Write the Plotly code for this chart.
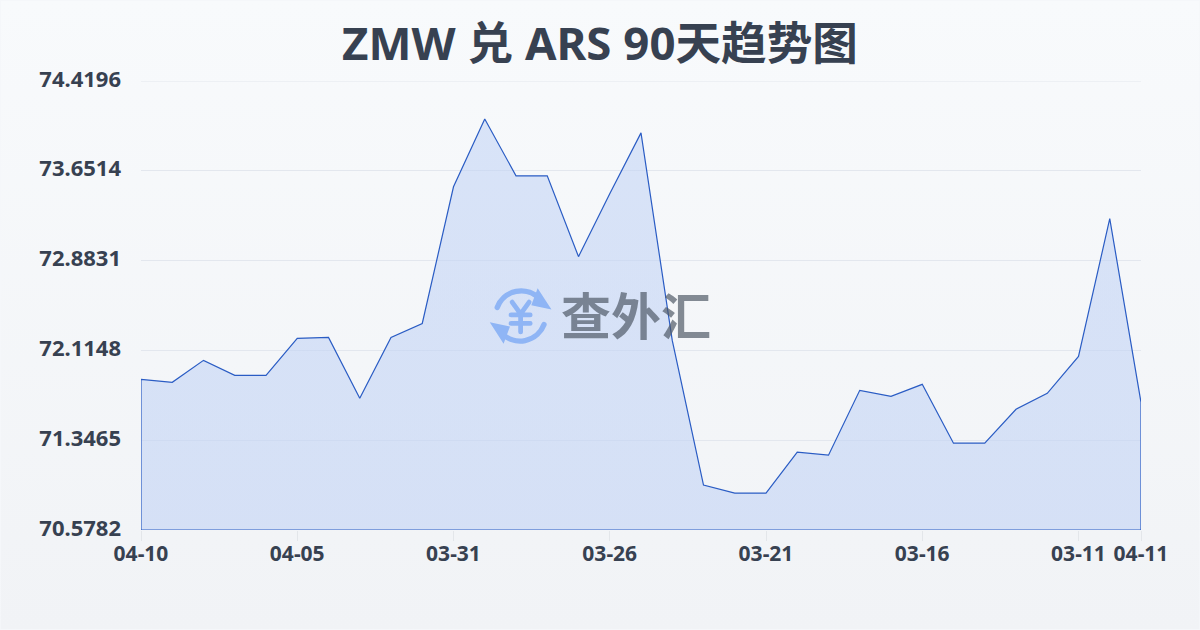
import base64
import plotly.graph_objects as go

title = "ZMW 兑 ARS 90天趋势图"
watermark = "查外汇"
x_index = list(range(33))
rates = [71.8672, 71.8416, 72.0294, 71.9013, 71.9013, 72.2172, 72.2257, 71.7050, 72.2257, 72.3452,
         73.5147, 74.0952, 73.6086, 73.6086, 72.9172, 73.4550, 73.9757, 72.2001, 70.9623, 70.8940,
         70.8940, 71.2440, 71.2184, 71.7733, 71.7221, 71.8245, 71.3209, 71.3209, 71.6111, 71.7477,
         72.0635, 73.2416, 71.6709]
y_ticks = [70.5782, 71.3465, 72.1148, 72.8831, 73.6514, 74.4196]
y_labels = ["70.5782", "71.3465", "72.1148", "72.8831", "73.6514", "74.4196"]
x_ticks = [0, 5, 10, 15, 20, 25, 30, 32]
x_labels = ["04-10", "04-05", "03-31", "03-26", "03-21", "03-16", "03-11", "04-11"]

bg_svg = ('<svg xmlns="http://www.w3.org/2000/svg" width="1200" height="630" preserveAspectRatio="none">'
          '<defs><linearGradient id="g" x1="0" y1="0" x2="0" y2="1"><stop offset="0" stop-color="#f8fafc"/>'
          '<stop offset="1" stop-color="#f1f3f6"/></linearGradient></defs>'
          '<rect width="1200" height="630" fill="url(#g)"/></svg>')
icon_svg = ('<svg xmlns="http://www.w3.org/2000/svg" viewBox="0 0 60 60" width="60" height="60">'
            '<g fill="none" stroke="#8fb5f5" stroke-width="5" stroke-linecap="round">'
            '<path d="M8 22 A24 24 0 0 1 48 14"/><path d="M52 38 A24 24 0 0 1 12 46"/>'
            '<path d="M22 17 L30 28 L38 17 M30 28 V45 M21 29 H39 M21 37 H39" stroke-width="4.5"/></g>'
            '<path d="M46 4 L59 24 L40 20 Z M14 56 L1 36 L20 40 Z" fill="#8fb5f5"/></svg>')


def uri(svg):
    return "data:image/svg+xml;base64," + base64.b64encode(svg.encode()).decode()


base = y_ticks[0]
fig = go.Figure(go.Scatter(
    x=[x_index[0]] + x_index + [x_index[-1], x_index[0]],
    y=[base] + rates + [base, base],
    mode="lines",
    line=dict(color="#2a5cc4", width=1.2),
    fill="toself",
    fillgradient=dict(type="vertical",
                      colorscale=[[0, "rgba(192,210,245,0.58)"], [1, "rgba(192,210,245,0.55)"]]),
    cliponaxis=False,
    hoverinfo="skip",
))

fig.update_layout(
    width=1200, height=630, autosize=False,
    margin=dict(l=140.5, r=58.5, t=80.5, b=99.5),
    paper_bgcolor="#f5f7fa",
    plot_bgcolor="rgba(0,0,0,0)",
    showlegend=False,
    font=dict(family="Noto Sans, Noto Sans CJK SC, sans-serif", color="#374151"),
    title=dict(text=f"<b>{title}</b>", x=0.5, xanchor="center", y=0.93, yanchor="middle",
               font=dict(size=45.6, color="#374151", family="Noto Sans, Noto Sans CJK SC, sans-serif")),
    images=[
        dict(source=uri(bg_svg), xref="paper", yref="paper", x=-140.5 / 1001, y=1 + 80.5 / 450,
             sizex=1200 / 1001, sizey=630 / 450, xanchor="left", yanchor="top",
             sizing="stretch", layer="below"),
        dict(source=uri(icon_svg), xref="paper", yref="paper", x=(520 - 140) / 1001, y=(530 - 315.5) / 450,
             sizex=64 / 1001, sizey=64 / 450, xanchor="center", yanchor="middle",
             sizing="contain", layer="above"),
    ],
    shapes=[dict(type="line", layer="below", xref="paper", x0=0, x1=1, yref="y",
                 y0=y_ticks[-1], y1=y_ticks[-1], line=dict(color="#e3e7ee", width=1))],
    annotations=[dict(text=f"<b>{watermark}</b>", xref="paper", yref="paper",
                      x=(635 - 140) / 1001, y=(530 - 313) / 450, xanchor="center", yanchor="middle",
                      showarrow=False, font=dict(size=50, color="rgba(75,85,99,0.68)",
                                                 family="Noto Sans CJK SC"))],
    xaxis=dict(range=[0, 32], tickmode="array", tickvals=x_ticks, ticktext=x_labels,
               showgrid=False, zeroline=False, showline=False, ticks="outside", ticklen=10,
               tickcolor="#e3e6ea", tickwidth=1, ticklabelstandoff=-5,
               tickfont=dict(size=21, color="#374151", weight="bold")),
    yaxis=dict(range=[y_ticks[0], y_ticks[-1]], tickmode="array", tickvals=y_ticks, ticktext=y_labels,
               showgrid=True, gridcolor="#e3e7ee", gridwidth=1, zeroline=False, showline=False,
               ticks="", ticklabelstandoff=19, ticklabelshift=-2,
               tickfont=dict(size=22, color="#374151", weight="bold")),
)
fig.write_html("out.html", config=dict(displayModeBar=False),
               post_script="document.body.style.margin='0';document.body.style.background='#f5f7fa';")
